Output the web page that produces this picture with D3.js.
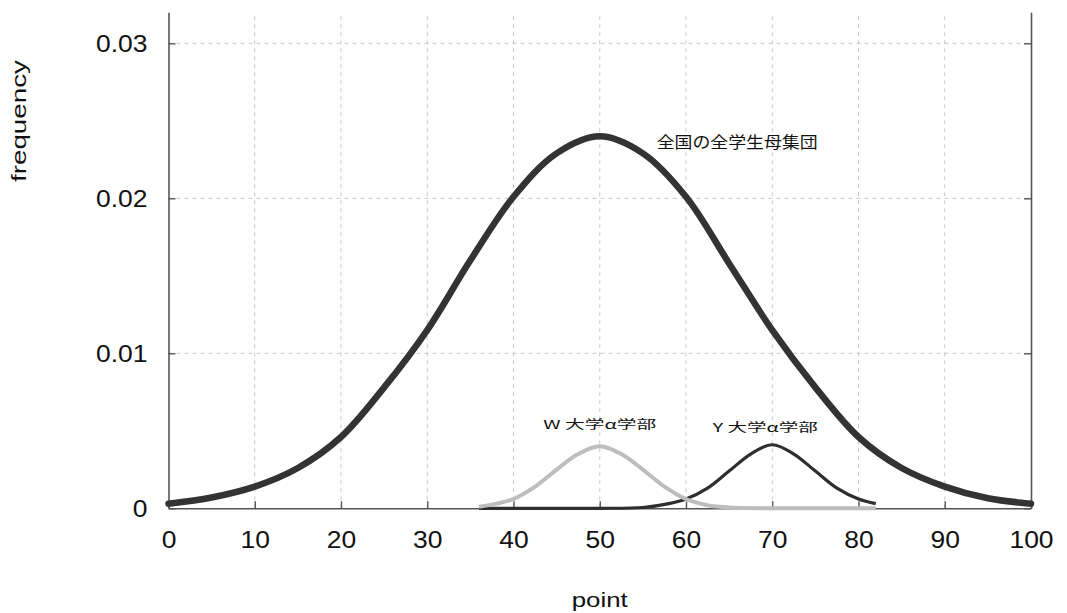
<!DOCTYPE html>
<html>
<head>
<meta charset="utf-8">
<script src="https://cdn.jsdelivr.net/npm/d3@7"></script>
<style>
	body { margin: 0; background: #fff; }
	text { font-family: "Liberation Sans", Arial, sans-serif; }
	.jp { font-family: "Noto Sans CJK JP", sans-serif; }
</style>
</head>
<body>
<div id="chart"></div>
<script>
// values
var xTicks = [0, 10, 20, 30, 40, 50, 60, 70, 80, 90, 100];
var yTicks = [0, 0.01, 0.02, 0.03];
var yTickLabels = ["0", "0.01", "0.02", "0.03"];

var allX = [0, 5, 10, 15, 20, 25, 30, 35, 40, 45, 50, 55, 60, 65, 70, 75, 80, 85, 90, 95, 100];
var allY = [0.0003, 0.0007, 0.0014, 0.0026, 0.0046, 0.0078, 0.0115, 0.0160, 0.0201, 0.0229, 0.0240,
	0.0229, 0.0201, 0.0158, 0.0115, 0.0078, 0.0046, 0.0026, 0.0014, 0.00065, 0.0003];

var wX = [36, 38, 40, 42.5, 45, 47.5, 50, 52.5, 55, 57.5, 60, 62.5, 65, 70, 75, 82];
var wY = [0.0001, 0.0003, 0.0006, 0.0014, 0.0025, 0.0035, 0.0040, 0.0035, 0.0025, 0.0014, 0.0006, 0.0002, 0.00005, 0, 0, 0];

var yX = [36, 45, 50, 55, 58, 60, 62.5, 65, 67.5, 70, 72.5, 75, 77.5, 80, 82];
var yY = [0, 0, 0, 0.00005, 0.0003, 0.0006, 0.0013, 0.0024, 0.0035, 0.0041, 0.0035, 0.0024, 0.0013, 0.0006, 0.0003];

var labelText = ["全国の全学生母集団", "W 大学α学部", "Y 大学α学部"];
var labelX = [56.6, 50, 69.2];
var labelY = [0.0236, 0.0054, 0.0052];
var labelAnchor = ["start", "middle", "middle"];

var width = 1067, height = 613;
var margins = {left: 168.5, right: 36, top: 12.3, bottom: 104.7};
var numStretch = 1.15;

var svg = d3.select("#chart")
	.append("svg")
	.attr("width", width)
	.attr("height", height);

var x = d3.scaleLinear().domain([0, 100]).range([margins.left, width - margins.right]);
var y = d3.scaleLinear().domain([0, 0.032]).range([height - margins.bottom, margins.top]);

// grid
var grid = svg.append("g").attr("class", "grid");
grid.selectAll("line.vx")
	.data(xTicks.slice(1, -1))
	.enter().append("line")
	.attr("x1", function(d) { return x(d); })
	.attr("x2", function(d) { return x(d); })
	.attr("y1", y(0))
	.attr("y2", y.range()[1])
	.attr("stroke", "#c8c8c8")
	.attr("stroke-width", 1)
	.attr("stroke-dasharray", "4,4");
grid.selectAll("line.hy")
	.data(yTicks.slice(1))
	.enter().append("line")
	.attr("x1", x(0))
	.attr("x2", x(100))
	.attr("y1", function(d) { return y(d); })
	.attr("y2", function(d) { return y(d); })
	.attr("stroke", "#c8c8c8")
	.attr("stroke-width", 1)
	.attr("stroke-dasharray", "4,4");

// axes
var bottom = svg.append("g")
	.attr("transform", "translate(0," + y(0) + ")")
	.call(d3.axisBottom(x).tickValues(xTicks).tickSizeInner(-7).tickSizeOuter(0).tickPadding(23));
var left = svg.append("g")
	.attr("transform", "translate(" + x(0) + ",0)")
	.call(d3.axisLeft(y).tickValues(yTicks).tickFormat(function(d, i) { return yTickLabels[i]; })
		.tickSizeInner(-7).tickSizeOuter(0).tickPadding(21));
var right = svg.append("g")
	.attr("transform", "translate(" + x(100) + ",0)")
	.call(d3.axisRight(y).tickValues(yTicks).tickFormat("").tickSizeInner(-7).tickSizeOuter(0));

[bottom, left, right].forEach(function(a) {
	a.select(".domain").attr("stroke", "#555").attr("stroke-width", 1.6);
	a.selectAll(".tick line").attr("stroke", "#555").attr("stroke-width", 1.4);
	a.selectAll(".tick text").attr("fill", "#111").style("font-size", "23px")
		.style("font-family", "'Liberation Sans', Arial, sans-serif")
		.attr("transform", "scale(" + numStretch + ",1)");
});
left.selectAll(".tick text").attr("dy", "0.35em").attr("x", -21 / numStretch);

// curves
var line = d3.line()
	.x(function(d) { return x(d[0]); })
	.y(function(d) { return y(d[1]); })
	.curve(d3.curveCatmullRom.alpha(0.5));

svg.append("path")
	.datum(d3.zip(yX, yY))
	.attr("d", line)
	.attr("fill", "none")
	.attr("stroke", "#2e2e2e")
	.attr("stroke-width", 3.2);
svg.append("path")
	.datum(d3.zip(wX, wY))
	.attr("d", line)
	.attr("fill", "none")
	.attr("stroke", "#bdbdbd")
	.attr("stroke-width", 4);
svg.append("path")
	.datum(d3.zip(allX, allY))
	.attr("d", line)
	.attr("fill", "none")
	.attr("stroke", "#333")
	.attr("stroke-width", 6.5)
	.attr("stroke-linecap", "round");

// annotations
var noteSize = [16, 12, 12];
var noteLength = [161, 113, 105];
svg.selectAll("text.note")
	.data(labelText)
	.enter().append("text")
	.attr("class", "note jp")
	.attr("x", function(d, i) { return x(labelX[i]); })
	.attr("y", function(d, i) { return y(labelY[i]); })
	.attr("dy", "0.35em")
	.attr("text-anchor", function(d, i) { return labelAnchor[i]; })
	.attr("textLength", function(d, i) { return noteLength[i]; })
	.attr("lengthAdjust", "spacingAndGlyphs")
	.style("font-size", function(d, i) { return noteSize[i] + "px"; })
	.attr("fill", "#111")
	.text(function(d) { return d; });

// axis titles
svg.append("text")
	.attr("x", x(50))
	.attr("y", 600)
	.attr("dy", "0.35em")
	.attr("text-anchor", "middle")
	.attr("textLength", 56)
	.attr("lengthAdjust", "spacingAndGlyphs")
	.style("font-size", "21px")
	.attr("fill", "#111")
	.text("point");
svg.append("text")
	.attr("transform", "translate(19,121) rotate(-90)")
	.attr("dy", "0.35em")
	.attr("text-anchor", "middle")
	.attr("textLength", 122)
	.attr("lengthAdjust", "spacingAndGlyphs")
	.style("font-size", "20px")
	.attr("fill", "#111")
	.text("frequency");
</script>
</body>
</html>
